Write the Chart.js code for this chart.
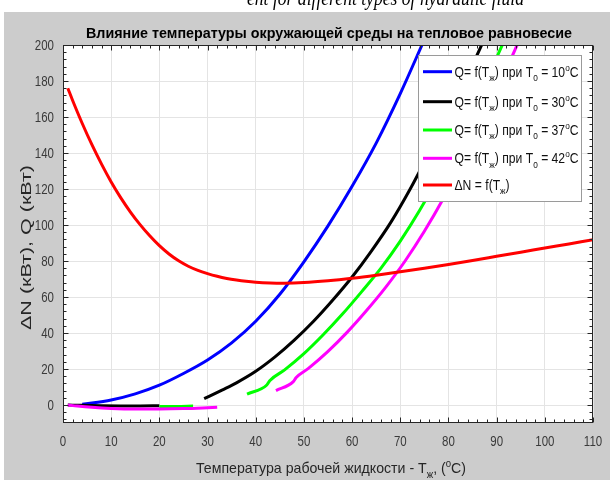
<!DOCTYPE html>
<html>
<head>
<meta charset="utf-8">
<script src="https://cdn.jsdelivr.net/npm/chart.js@4/dist/chart.umd.min.js"></script>
<style>
  html, body { margin: 0; padding: 0; background: #ffffff; }
  #wrap { position: relative; width: 610px; height: 480px; }
  canvas { display: block; }
</style>
</head>
<body>
<div id="wrap"><canvas id="c" width="610" height="480"></canvas></div>
<script>
// ---------- data ----------
const xTicks = [0, 10, 20, 30, 40, 50, 60, 70, 80, 90, 100, 110];
const yTicks = [0, 20, 40, 60, 80, 100, 120, 140, 160, 180, 200];

// Q = f(Tж) при T0 = 10°C
const blueT = [4, 10, 15, 20, 25, 30, 35, 40, 45, 50, 55, 60, 65, 70, 75];
const blueQ = [0.4, 2.8, 6.2, 11.0, 17.5, 25.0, 34.5, 46.5, 61.5, 79.5, 99.5, 121.5, 145.5, 173.0, 203.0];

// Q = f(Tж) при T0 = 30°C
const blackLowT = [1, 4, 8, 12, 16, 20];
const blackLowQ = [0, -0.2, -0.4, -0.5, -0.5, -0.45];
const blackT = [29.3, 33, 36, 40, 44, 48, 52, 56, 60, 64, 68, 72, 76, 80, 84, 88];
const blackQ = [3.5, 8.3, 12.3, 18.7, 26.7, 36.0, 46.5, 58.3, 71.1, 85.5, 101.3, 119.7, 140.1, 161.3, 183.3, 206.5];

// Q = f(Tж) при T0 = 37°C
const greenLowT = [20, 23.5, 27];
const greenLowQ = [-0.8, -0.8, -0.6];
const greenT = [38.2, 42.3, 42.9, 46, 50, 54, 58, 62, 66, 70, 74, 78, 82, 86, 90, 94];
const greenQ = [6.1, 11.1, 13.5, 19.5, 28.5, 39.0, 50.5, 63.0, 76.0, 91.0, 108.0, 127.0, 148.0, 170.0, 193.0, 217.0];

// Q = f(Tж) при T0 = 42°C
const magentaLowT = [1, 3, 6, 10, 15, 20, 25, 29, 32];
const magentaLowQ = [0, -0.6, -1.3, -1.9, -2.2, -2.2, -2.0, -1.6, -1.2];
const magentaT = [44.2, 47.8, 48.4, 51, 55, 59, 63, 67, 71, 75, 79, 83, 87, 91, 95];
const magentaQ = [8.0, 13.0, 15.3, 20.5, 29.8, 40.5, 52.5, 65.5, 80.0, 96.5, 115.0, 135.5, 157.5, 180.5, 204.5];

// ΔN = f(Tж)
const redT = [1, 2, 4, 6, 8, 10, 12, 14, 16, 18, 20, 22, 24, 26, 28, 30, 32, 34, 36, 38, 40, 43, 46, 50, 55, 60, 65, 70, 75, 80, 85, 90, 95, 100, 105, 110];
const redN = [176, 169.2, 156.4, 144.6, 133.8, 123.9, 115.1, 107.2, 100.2, 94.0, 88.5, 83.9, 80.1, 77.1, 74.8, 73.0, 71.5, 70.3, 69.4, 68.7, 68.2, 67.8, 67.7, 68.0, 69.0, 70.4, 72.1, 74.0, 76.0, 78.1, 80.3, 82.6, 84.9, 87.2, 89.5, 91.8];

const titleText = 'Влияние температуры окружающей среды на тепловое равновесие';
const xLabelSegs = [['Температура рабочей жидкости - T', 'n'], ['ж', 'sub'], [', (', 'n'], ['o', 'sup'], ['C)', 'n']];
const yLabelSegs = [['ΔN (кВт), Q (кВт)', 'n']];
const topCutText = 'ent for different types of hydraulic fluid';

const legendItems = [
  { color: '#0000ff', segs: [['Q= f(T', 'n'], ['ж', 'sub'], [') при T', 'n'], ['0', 'sub'], [' = 10', 'n'], ['o', 'sup'], ['C', 'n']] },
  { color: '#000000', segs: [['Q= f(T', 'n'], ['ж', 'sub'], [') при T', 'n'], ['0', 'sub'], [' = 30', 'n'], ['o', 'sup'], ['C', 'n']] },
  { color: '#00ff00', segs: [['Q= f(T', 'n'], ['ж', 'sub'], [') при T', 'n'], ['0', 'sub'], [' = 37', 'n'], ['o', 'sup'], ['C', 'n']] },
  { color: '#ff00ff', segs: [['Q= f(T', 'n'], ['ж', 'sub'], [') при T', 'n'], ['0', 'sub'], [' = 42', 'n'], ['o', 'sup'], ['C', 'n']] },
  { color: '#ff0000', segs: [['ΔN = f(T', 'n'], ['ж', 'sub'], [')', 'n']] }
];

// ---------- helpers ----------
const FONT = "'Liberation Sans', Arial, Helvetica, sans-serif";
function pts(xs, ys) { return xs.map((x, i) => ({ x: x, y: ys[i] })); }
function segFont(size, kind, weight, family) {
  const s = kind === 'n' ? size : size * 0.68;
  return `${weight} ${s}px ${family || FONT}`;
}
function segsWidth(ctx, segs, size, weight, family) {
  let w = 0;
  for (const [t, k] of segs) { ctx.font = segFont(size, k, weight, family); w += ctx.measureText(t).width; }
  return w;
}
function drawSegsAt(ctx, segs, size, weight, color, family) {
  let x = 0;
  ctx.fillStyle = color; ctx.textAlign = 'left'; ctx.textBaseline = 'alphabetic';
  for (const [t, k] of segs) {
    ctx.font = segFont(size, k, weight, family);
    const dy = k === 'sub' ? size * 0.32 : (k === 'sup' ? -size * 0.42 : 0);
    ctx.fillText(t, x, dy);
    x += ctx.measureText(t).width;
  }
}
function placeText(ctx, segs, o) {
  const w0 = segsWidth(ctx, segs, o.size, o.weight || 'normal', o.family);
  const sx = o.width ? o.width / w0 : (o.sx || 1);
  const w = w0 * sx;
  ctx.save();
  ctx.translate(o.x, o.y);
  if (o.rot) ctx.rotate(o.rot);
  let left = 0;
  if (o.align === 'center') left = -w / 2; else if (o.align === 'right') left = -w;
  ctx.translate(left, o.by || 0);
  ctx.scale(sx, o.sy || 1);
  drawSegsAt(ctx, segs, o.size, o.weight || 'normal', o.color || '#000', o.family);
  ctx.restore();
  return sx;
}

// ---------- plugins ----------
const bgPlugin = {
  id: 'bg',
  beforeDraw(chart) {
    const c = chart.ctx, a = chart.chartArea;
    c.save();
    c.fillStyle = '#ffffff';
    c.fillRect(0, 0, chart.width, chart.height);
    c.fillStyle = '#cccccc';
    c.fillRect(4, 12, chart.width - 4, chart.height - 12);
    c.fillStyle = '#ffffff';
    c.fillRect(a.left, a.top, a.right - a.left, a.bottom - a.top);
    c.beginPath(); c.rect(0, 0, chart.width, 12); c.clip();
    placeText(c, [[topCutText, 'n']], { size: 21, weight: 'italic', family: "'Liberation Serif', 'Times New Roman', serif", x: 385.5, y: 5, align: 'center', width: 277, color: '#000' });
    c.restore();
  }
};

const decoPlugin = {
  id: 'deco',
  afterDraw(chart) {
    const c = chart.ctx, a = chart.chartArea;
    const xs = chart.scales.x, ys = chart.scales.y;
    const L = Math.round(a.left) + 0.5, R = Math.round(a.right) - 0.5;
    const T = Math.round(a.top) + 0.5, B = Math.round(a.bottom) - 0.5;
    c.save();
    c.strokeStyle = '#262626';
    c.lineWidth = 1;
    c.beginPath();
    for (let v = 0; v <= 110; v += 2) {
      const len = (v % 10 === 0) ? 5 : 3;
      const px = Math.round(xs.getPixelForValue(v)) + 0.5;
      c.moveTo(px, B); c.lineTo(px, B - len);
      c.moveTo(px, T); c.lineTo(px, T + len);
    }
    for (let v = -8; v <= 200; v += 4) {
      const len = (v % 20 === 0) ? 5 : 3;
      const py = Math.round(ys.getPixelForValue(v)) + 0.5;
      c.moveTo(L, py); c.lineTo(L + len, py);
      c.moveTo(R, py); c.lineTo(R - len, py);
    }
    c.stroke();
    c.strokeRect(L, T, R - L, B - T);

    const tickColor = '#3a3a3a';
    xTicks.forEach(v => {
      placeText(c, [[String(v), 'n']], { size: 14, x: xs.getPixelForValue(v), y: 445.5, align: 'center', sx: 0.82, color: tickColor });
    });
    yTicks.forEach(v => {
      placeText(c, [[String(v), 'n']], { size: 14, x: 54, y: ys.getPixelForValue(v) + 5, align: 'right', sx: 0.82, color: tickColor });
    });

    placeText(c, [[titleText, 'n']], { size: 15, weight: 'bold', x: 329, y: 38, align: 'center', width: 486, color: '#000' });
    placeText(c, xLabelSegs, { size: 15, x: 331, y: 473, align: 'center', width: 270, color: '#262626' });
    placeText(c, yLabelSegs, { size: 15.5, x: 25, y: 247.5, rot: -Math.PI / 2, by: 5.5, align: 'center', width: 165, color: '#262626' });

    const bx = 418.5, by = 55.5, bw = 163, bh = 146;
    c.fillStyle = '#ffffff';
    c.fillRect(bx, by, bw, bh);
    c.strokeStyle = '#9a9a9a';
    c.lineWidth = 1;
    c.strokeRect(bx, by, bw, bh);
    const rowsY = [71.7, 101.7, 130, 158.3, 185];
    const w0 = segsWidth(c, legendItems[0].segs, 14, 'normal');
    const sx = 124 / w0;
    legendItems.forEach((it, i) => {
      const y = rowsY[i];
      c.strokeStyle = it.color; c.lineWidth = 3; c.lineCap = 'butt';
      c.beginPath(); c.moveTo(423, y); c.lineTo(452, y); c.stroke();
      placeText(c, it.segs, { size: 14, x: 454.5, y: y + 5, align: 'left', sx: sx, color: '#111' });
    });
    c.restore();
  }
};

// ---------- chart ----------
function ds(label, data, color, order) {
  return { label, data, borderColor: color, backgroundColor: color, borderWidth: 3, showLine: true, fill: false,
           pointRadius: 0, pointHoverRadius: 0, cubicInterpolationMode: 'monotone', order };
}

const datasets = [
  ds('Q T0=10', pts(blueT, blueQ), '#0000ff', 9),
  ds('Q T0=30 low', pts(blackLowT, blackLowQ), '#000000', 8),
  ds('Q T0=30', pts(blackT, blackQ), '#000000', 7),
  ds('Q T0=37 low', pts(greenLowT, greenLowQ), '#00ff00', 6),
  ds('Q T0=37', pts(greenT, greenQ), '#00ff00', 5),
  ds('Q T0=42 low', pts(magentaLowT, magentaLowQ), '#ff00ff', 4),
  ds('Q T0=42', pts(magentaT, magentaQ), '#ff00ff', 3),
  ds('ΔN', pts(redT, redN), '#ff0000', 1)
];

new Chart(document.getElementById('c').getContext('2d'), {
  type: 'scatter',
  data: { datasets },
  options: {
    responsive: false,
    animation: false,
    devicePixelRatio: 1,
    layout: { padding: { left: 0, right: 17, top: 45, bottom: 0 } },
    plugins: { legend: { display: false }, tooltip: { enabled: false }, title: { display: false } },
    scales: {
      x: {
        type: 'linear', min: 0, max: 110,
        ticks: { display: false },
        grid: { color: '#e4e4e4', lineWidth: 1, drawTicks: false },
        border: { display: false },
        afterBuildTicks: s => { s.ticks = xTicks.map(v => ({ value: v })); },
        afterFit: s => { s.height = 57; }
      },
      y: {
        type: 'linear', min: -10, max: 200,
        ticks: { display: false },
        grid: { color: '#e4e4e4', lineWidth: 1, drawTicks: false },
        border: { display: false },
        afterBuildTicks: s => { s.ticks = yTicks.map(v => ({ value: v })); },
        afterFit: s => { s.height = undefined, s.width = 63; }
      }
    }
  },
  plugins: [bgPlugin, decoPlugin]
});
</script>
</body>
</html>
